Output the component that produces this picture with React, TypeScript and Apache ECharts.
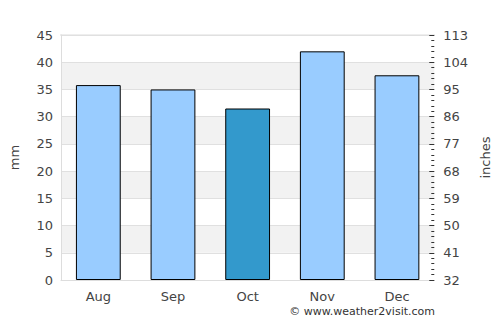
import React, { useEffect, useRef } from "react";
import * as echarts from "echarts";

const months = ["Aug", "Sep", "Oct", "Nov", "Dec"];
const rainfallMm = [35.8, 35.0, 31.5, 42.0, 37.6];
const highlightIndex = 2;
const leftTicks = [0, 5, 10, 15, 20, 25, 30, 35, 40, 45];
const rightTickLabels = ["32", "41", "50", "59", "68", "77", "86", "95", "104", "113"];

export default function App() {
  const ref = useRef<HTMLDivElement>(null);
  useEffect(() => {
    const chart = echarts.init(ref.current!, null, { renderer: "svg" });
    const font = "DejaVu Sans";
    chart.setOption({
      animation: false,
      textStyle: { fontFamily: font },
      grid: { left: 60, right: 65, top: 35, bottom: 45, show: false },
      xAxis: {
        type: "category",
        data: months,
        axisLine: { show: true, lineStyle: { color: "#dddddd" } },
        axisTick: { show: false },
        axisLabel: { color: "#444", fontSize: 13, margin: 10, fontFamily: font },
        splitLine: { show: false },
      },
      yAxis: [
        {
          type: "value",
          min: leftTicks[0],
          max: leftTicks[leftTicks.length - 1],
          interval: 5,
          name: "mm",
          nameLocation: "middle",
          nameGap: 40,
          nameTextStyle: { color: "#444", fontSize: 13, fontFamily: font },
          axisLine: { show: true, lineStyle: { color: "#dddddd" } },
          axisTick: { show: false },
          axisLabel: { color: "#444", fontSize: 13, margin: 8, fontFamily: font },
          splitLine: { show: true, lineStyle: { color: "#e0e0e0", width: 1 } },
          splitArea: { show: true, areaStyle: { color: ["#ffffff", "#f2f2f2"] } },
        },
        {
          type: "value",
          position: "right",
          min: leftTicks[0],
          max: leftTicks[leftTicks.length - 1],
          interval: 5,
          name: "inches",
          nameLocation: "middle",
          nameGap: 42,
          nameTextStyle: { color: "#444", fontSize: 13, fontFamily: font },
          axisLine: { show: false },
          axisTick: { show: true, inside: true, length: 5, lineStyle: { color: "#333" } },
          minorTick: { show: true, splitNumber: 5, length: 3, lineStyle: { color: "#333" } },
          axisLabel: {
            color: "#444",
            fontSize: 13,
            margin: 9,
            fontFamily: font,
            formatter: (v: number) => rightTickLabels[Math.round(v / 5)] ?? "",
          },
          splitLine: { show: false },
        },
      ],
      graphic: [
        {
          type: "line",
          shape: { x1: 60, y1: 35, x2: 435, y2: 35 },
          style: { stroke: "#dddddd", lineWidth: 1 },
        },
        {
          type: "text",
          right: 65,
          top: 306,
          style: { text: "© www.weather2visit.com", fill: "#333", fontSize: 11, fontFamily: font },
        },
      ],
      series: [
        {
          type: "bar",
          yAxisIndex: 0,
          barWidth: "60%",
          data: rainfallMm.map((v, i) => ({
            value: v,
            itemStyle: {
              color: i === highlightIndex ? "#3399cc" : "#99ccff",
              borderColor: "#000",
              borderWidth: 1,
            },
          })),
        },
      ],
    });
    return () => chart.dispose();
  }, []);
  return (
    <div
      ref={ref}
      style={{ position: "absolute", left: 0, top: 0, width: 500, height: 325 }}
    />
  );
}
